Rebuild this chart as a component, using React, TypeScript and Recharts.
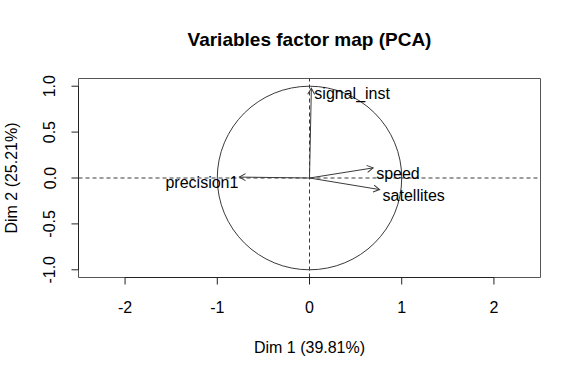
import React from "react";
import {
  ScatterChart,
  Scatter,
  XAxis,
  YAxis,
  ReferenceLine,
  ReferenceArea,
  Customized,
} from "recharts";

// variables and their coordinates on the first two dimensions
const variables = ["signal_inst", "speed", "satellites", "precision1"];
const dim1 = [0.02, 0.69, 0.76, -0.76];
const dim2 = [0.977, 0.11, -0.126, 0.01];

const xTicks = [-2, -1, 0, 1, 2];
const yTicks = [-1, -0.5, 0, 0.5, 1];
const xDomain = [-2.505, 2.505];
const yDomain = [-1.084, 1.084];

const rows = variables.map((name, i) => ({ name, x: dim1[i], y: dim2[i] }));

const LINE = "#3a3a3a";
const FONT = "'Liberation Sans', Arial, Helvetica, sans-serif";

// unit circle, drawn from the pixel ends of the (-1,-1)-(1,1) segment
const CircleShape = (p: any) => (
  <ellipse
    cx={(p.x1 + p.x2) / 2}
    cy={(p.y1 + p.y2) / 2}
    rx={Math.abs(p.x2 - p.x1) / 2}
    ry={Math.abs(p.y2 - p.y1) / 2}
    fill="none"
    stroke={LINE}
    strokeWidth={1}
  />
);

const ArrowShape = (p: any) => (
  <line
    x1={p.x1}
    y1={p.y1}
    x2={p.x2}
    y2={p.y2}
    stroke={LINE}
    strokeWidth={1}
    markerEnd="url(#pca-arrow)"
  />
);

const PlainLine = (p: any) => (
  <line x1={p.x1} y1={p.y1} x2={p.x2} y2={p.y2} stroke="#222" strokeWidth={1} />
);

const YTick = (p: any) => (
  <text
    x={p.x}
    y={p.y}
    transform={`rotate(-90, ${p.x}, ${p.y})`}
    textAnchor="middle"
    fontSize={16}
    fill="#000"
  >
    {Number(p.payload.value).toFixed(1)}
  </text>
);

const VarLabel = (p: any) => {
  const right = p.payload.x >= 0;
  return (
    <text
      x={p.cx + (right ? 3 : -1)}
      y={p.cy + 11}
      textAnchor={right ? "start" : "end"}
      fontSize={16}
      fill="#000"
    >
      {p.payload.name}
    </text>
  );
};

export default function App() {
  return (
    <div style={{ position: "absolute", left: 0, top: 0, fontFamily: FONT, background: "#fff" }}>
      <svg width={0} height={0} style={{ position: "absolute" }}>
        <defs>
          <marker
            id="pca-arrow"
            markerUnits="userSpaceOnUse"
            markerWidth={10}
            markerHeight={10}
            refX={0}
            refY={0}
            orient="auto"
            overflow="visible"
          >
            <path d="M-6.1,-3.5 L0,0 L-6.1,3.5" fill="none" stroke={LINE} strokeWidth={1} />
          </marker>
        </defs>
      </svg>
      <ScatterChart
        width={581}
        height={376}
        margin={{ top: 78.5, right: 40.5, bottom: 58.5, left: 0 }}
      >
        <XAxis
          type="number"
          dataKey="x"
          domain={xDomain}
          ticks={xTicks}
          interval={0}
          allowDataOverflow
          axisLine={false}
          tickLine={{ stroke: "#222" }}
          tickSize={7}
          tickMargin={17.5}
          tick={{ fill: "#000", fontSize: 16 }}
          height={40}
          label={{ value: "Dim 1 (39.81%)", position: "bottom", offset: 24, fill: "#000", fontSize: 16 }}
        />
        <YAxis
          type="number"
          dataKey="y"
          domain={yDomain}
          ticks={yTicks}
          interval={0}
          allowDataOverflow
          axisLine={false}
          tickLine={{ stroke: "#222" }}
          tickSize={7}
          tickMargin={16}
          width={78.5}
          tick={YTick}
          label={{
            value: "Dim 2 (25.21%)",
            angle: -90,
            position: "insideLeft",
            offset: 11,
            style: { textAnchor: "middle" },
            fill: "#000",
            fontSize: 16,
          }}
        />
        <ReferenceArea
          x1={xDomain[0]}
          x2={xDomain[1]}
          y1={yDomain[0]}
          y2={yDomain[1]}
          fill="none"
          fillOpacity={0}
          stroke="#555"
          ifOverflow="visible"
        />
        <ReferenceLine
          segment={[{ x: xTicks[0], y: yDomain[0] }, { x: xTicks[xTicks.length - 1], y: yDomain[0] }]}
          shape={PlainLine}
          ifOverflow="visible"
        />
        <ReferenceLine
          segment={[{ x: xDomain[0], y: yTicks[0] }, { x: xDomain[0], y: yTicks[yTicks.length - 1] }]}
          shape={PlainLine}
          ifOverflow="visible"
        />
        <ReferenceLine x={0} stroke={LINE} strokeDasharray="4 3" ifOverflow="visible" />
        <ReferenceLine y={0} stroke={LINE} strokeDasharray="4 3" ifOverflow="visible" />
        <ReferenceLine
          segment={[{ x: -1, y: -1 }, { x: 1, y: 1 }]}
          shape={CircleShape}
          ifOverflow="visible"
        />
        {rows.map((r) => (
          <ReferenceLine
            key={r.name}
            segment={[{ x: 0, y: 0 }, { x: r.x, y: r.y }]}
            shape={ArrowShape}
            ifOverflow="visible"
          />
        ))}
        <Scatter data={rows} isAnimationActive={false} shape={VarLabel} />
        <Customized
          component={
            <text x={309.5} y={46} textAnchor="middle" fontSize={19} fontWeight="bold" fill="#000">
              Variables factor map (PCA)
            </text>
          }
        />
      </ScatterChart>
    </div>
  );
}
